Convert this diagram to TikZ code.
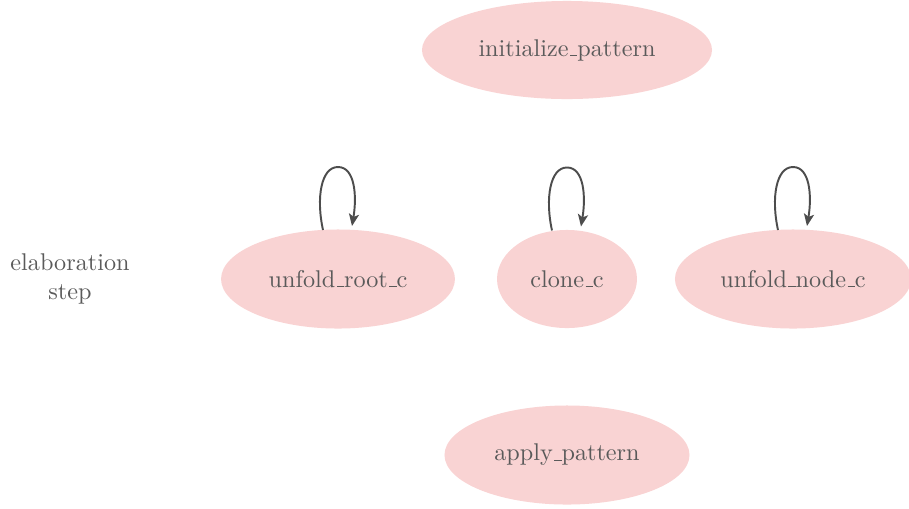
\documentclass[tikz,border=0pt]{standalone}
\usetikzlibrary{shapes.geometric,arrows.meta,calc}
\definecolor{nodefill}{HTML}{F9D3D3}
\definecolor{txt}{HTML}{5A5A5A}
\definecolor{edgec}{HTML}{4D4D4D}
\newcommand\us{\leavevmode\kern.06em\rule{.3em}{.4pt}}
\begin{document}
\begin{tikzpicture}[x=0.413pt,y=-0.413pt,
  st/.style={ellipse,fill=nodefill,draw=none,inner sep=0pt,text=txt,font=\normalsize},
  lbl/.style={text=txt,align=center,font=\normalsize},
  selfloop/.style={draw=edgec,line width=0.8pt,-{Stealth[length=5pt,width=4.2pt,inset=1.2pt]}}]
\useasboundingbox (0,0) rectangle (909,508);
\node[st,minimum width=119.8pt,minimum height=40.5pt] (init) at (567,50) {initialize\us pattern};
\node[st,minimum width=96.6pt,minimum height=40.9pt] (root) at (338,279) {unfold\us root\us c};
\node[st,minimum width=57.8pt,minimum height=40.5pt] (clone) at (567,279) {clone\us c};
\node[st,minimum width=97.5pt,minimum height=40.9pt] (node) at (793,279) {unfold\us node\us c};
\node[st,minimum width=101.2pt,minimum height=40.9pt] (apply) at (567,455) {apply\us pattern};
\node[lbl] (elab) at (70,279) {elaboration\\step};
\foreach \n in {root,clone,node}{
  \coordinate (\n-s) at ($(\n.north)+(-15,1)$);
  \coordinate (\n-t) at ($(\n.north)+(0,-62)$);
  \coordinate (\n-e) at ($(\n.north)+(14,-3)$);
  \draw[selfloop] (\n-s) .. controls +(-7,-32) and +(-17,0) .. (\n-t)
     .. controls +(17,0) and +(5,-30) .. (\n-e);
}
\end{tikzpicture}
\end{document}
